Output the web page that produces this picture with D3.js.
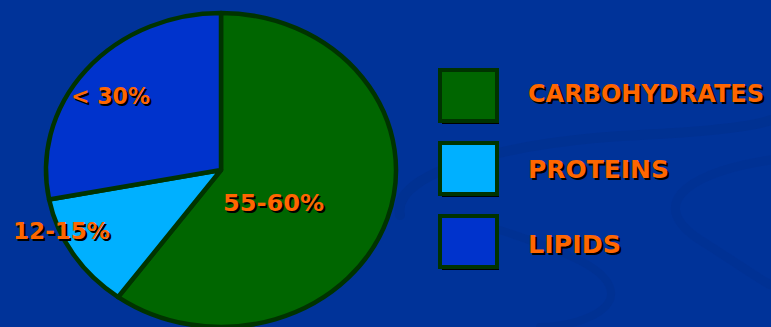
<!DOCTYPE html>
<html>
<head>
<meta charset="utf-8">
<script src="https://cdn.jsdelivr.net/npm/d3@7"></script>
<style>
  html, body { margin: 0; padding: 0; background: #003399; overflow: hidden; }
  svg { display: block; }
  text { font-family: "Comic Sans MS", "DejaVu Sans", sans-serif; font-weight: bold; }
</style>
</head>
<body>
<svg id="chart" width="771" height="327"></svg>
<script>
// ---- data ----
const categories = ["CARBOHYDRATES", "PROTEINS", "LIPIDS"];
const values = [60, 12, 28];
const sliceLabels = ["55-60%", "12-15%", "< 30%"];
const colors = ["#006600", "#00B0FF", "#0033CC"];

const W = 771, H = 327;
const svg = d3.select("#chart");

// background
svg.append("rect").attr("width", W).attr("height", H).attr("fill", "#003399");
// faint decorative swirls
const swirl = svg.append("g").attr("fill", "none").attr("stroke", "#00308F").attr("stroke-linecap", "round");
swirl.append("path").attr("d", "M400,215 C390,170 520,140 640,135 C700,132 750,128 771,120").attr("stroke-width", 10).attr("opacity", 0.7);
swirl.append("path").attr("d", "M500,230 C560,250 620,270 610,300 C600,320 560,327 540,327").attr("stroke-width", 8).attr("opacity", 0.6);
swirl.append("path").attr("d", "M771,160 C700,170 640,200 700,240 C740,265 760,280 771,285").attr("stroke-width", 9).attr("opacity", 0.5);

// ---- pie (ellipse) ----
const cx = 221, cy = 170, rx = 175, ry = 157;
const pie = d3.pie().sort(null).value(d => d);
const arc = d3.arc().innerRadius(0).outerRadius(ry);
const arcs = pie(values);

const pg = svg.append("g").attr("transform", `translate(${cx},${cy}) scale(${rx / ry},1)`);
pg.selectAll("path").data(arcs).join("path")
  .attr("d", arc)
  .attr("fill", (d, i) => colors[i])
  .attr("stroke", "#003300")
  .attr("stroke-width", 4.5)
  .attr("stroke-linejoin", "round")
  .attr("vector-effect", "non-scaling-stroke");

// shadowed orange text helper
function shadowText(g, x, y, txt, size, len) {
  const t = g.append("g");
  [[2, 2, "#000000"], [0, 0, "#FF6600"]].forEach(([dx, dy, c]) => {
    t.append("text").attr("x", x + dx).attr("y", y + dy)
      .attr("font-size", size).attr("fill", c)
      .attr("textLength", len).attr("lengthAdjust", "spacingAndGlyphs")
      .text(txt);
  });
}

// slice labels (layout positions)
const labelPos = [[223, 211, 101], [13, 239, 97], [71, 104, 79]];
sliceLabels.forEach((s, i) => shadowText(svg, labelPos[i][0], labelPos[i][1], s, 22.5, labelPos[i][2]));

// ---- legend ----
const ly = d3.scalePoint().domain(categories).range([70, 216]);
const leg = svg.append("g");
categories.forEach((c, i) => {
  const y = ly(c);
  leg.append("rect").attr("x", 442).attr("y", y + 3).attr("width", 57).attr("height", 51).attr("fill", "#000000");
  leg.append("rect").attr("x", 440).attr("y", y).attr("width", 57).attr("height", 51)
    .attr("fill", colors[i]).attr("stroke", "#003300").attr("stroke-width", 4);
});
const textLens = [236, 141, 93];
const textBase = [102, 178, 253];
categories.forEach((c, i) => shadowText(leg, 528, textBase[i], c, 24.5, textLens[i]));
</script>
</body>
</html>
